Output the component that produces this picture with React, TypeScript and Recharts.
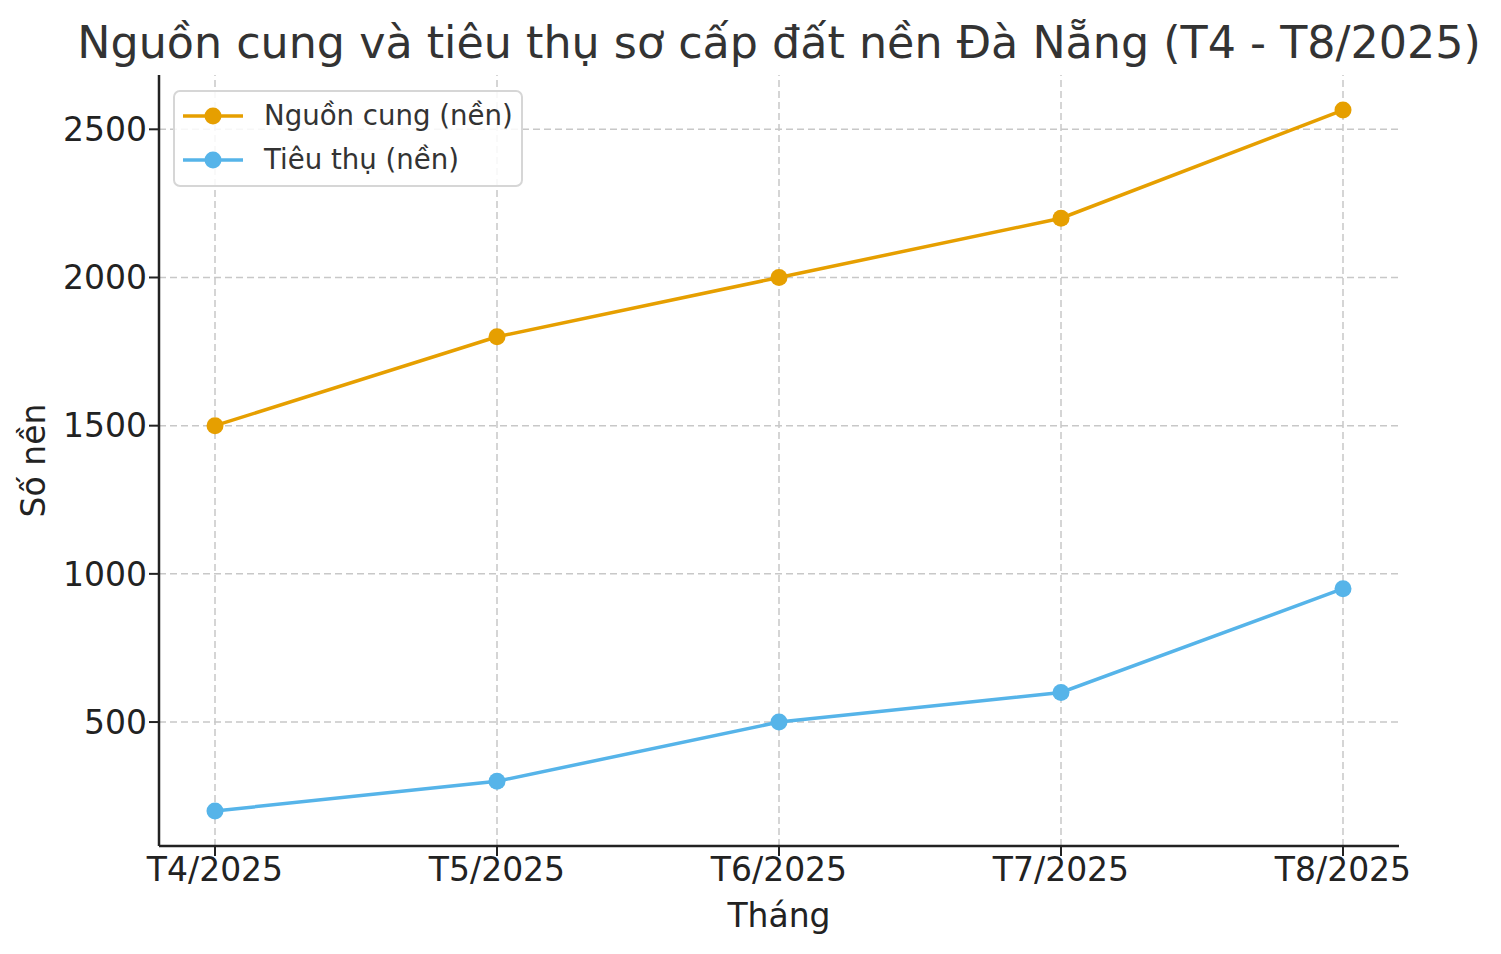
import React from "react";
import {
  LineChart,
  Line,
  XAxis,
  YAxis,
  ReferenceLine,
  Legend,
  Customized,
} from "recharts";

const months = ["T4/2025", "T5/2025", "T6/2025", "T7/2025", "T8/2025"];
const supply = [1500, 1800, 2000, 2200, 2565];
const sales = [200, 300, 500, 600, 950];
const yTicks = [500, 1000, 1500, 2000, 2500];

const TITLE = "Nguồn cung và tiêu thụ sơ cấp đất nền Đà Nẵng (T4 - T8/2025)";
const SUPPLY_NAME = "Nguồn cung (nền)";
const SALES_NAME = "Tiêu thụ (nền)";
const X_LABEL = "Tháng";
const Y_LABEL = "Số nền";

const ORANGE = "#E69F00";
const BLUE = "#56B4E9";
const GRID = "#c8c8c8";
const FONT = "'DejaVu Sans', Verdana, sans-serif";

const W = 1501;
const H = 954;
const M_TOP = 75;
const M_RIGHT = 102;
const Y_W = 159;
const X_H = 108;

const data = months.map((m, i) => ({ month: m, supply: supply[i], sales: sales[i] }));

const allVals = [...supply, ...sales];
const vMin = Math.min(...allVals);
const vMax = Math.max(...allVals);
const pad = (vMax - vMin) * 0.05;
const yDomain = [vMin - pad, vMax + pad];

const legendItems = [
  { name: SUPPLY_NAME, color: ORANGE },
  { name: SALES_NAME, color: BLUE },
];

const LegendBox = () => (
  <div
    style={{
      width: 346,
      height: 93,
      border: "2px solid #d6d6d6",
      borderRadius: 7,
      background: "rgba(255,255,255,0.85)",
      boxSizing: "content-box",
      position: "relative",
      fontFamily: FONT,
    }}
  >
    {legendItems.map((it, i) => (
      <div
        key={it.name}
        style={{
          position: "absolute",
          left: 0,
          top: 24 + i * 44 - 22,
          height: 44,
          width: 346,
          display: "flex",
          alignItems: "center",
        }}
      >
        <svg width={89} height={44} style={{ flex: "none" }}>
          <line x1={8} x2={68} y1={22} y2={22} stroke={it.color} strokeWidth={3.5} />
          <circle cx={38} cy={22} r={8.5} fill={it.color} />
        </svg>
        <span style={{ fontSize: 27.6, color: "#333", whiteSpace: "nowrap", lineHeight: "44px" }}>
          {it.name}
        </span>
      </div>
    ))}
  </div>
);

const TitleLayer = () => {
  const plotLeft = Y_W;
  const plotWidth = W - M_RIGHT - Y_W;
  const plotTop = M_TOP;
  const plotHeight = H - X_H - M_TOP;
  const cx = plotLeft + plotWidth / 2;
  const cy = plotTop + plotHeight / 2;
  return (
    <g>
      <text x={cx} y={58} textAnchor="middle" fontSize={44.4} fill="#333" fontFamily={FONT}>
        {TITLE}
      </text>
      <text x={cx} y={927} textAnchor="middle" fontSize={33} fill="#222" fontFamily={FONT}>
        {X_LABEL}
      </text>
      <text
        x={45}
        y={cy}
        transform={`rotate(-90 45 ${cy})`}
        textAnchor="middle"
        fontSize={33}
        fill="#222"
        fontFamily={FONT}
      >
        {Y_LABEL}
      </text>
    </g>
  );
};

export default function App() {
  return (
    <div style={{ position: "absolute", left: 0, top: 0, width: W, height: H, background: "#fff" }}>
      <LineChart
        width={W}
        height={H}
        data={data}
        margin={{ top: M_TOP, right: M_RIGHT, left: 0, bottom: 0 }}
        style={{ fontFamily: FONT }}
      >
        <XAxis
          dataKey="month"
          padding={{ left: 56, right: 56 }}
          height={X_H}
          interval={0}
          tickSize={10}
          tickMargin={2}
          tick={{ fill: "#222", fontSize: 33, fontFamily: FONT }}
          axisLine={{ stroke: "#222", strokeWidth: 2.5 }}
          tickLine={{ stroke: "#222", strokeWidth: 2 }}
        />
        <YAxis
          type="number"
          domain={yDomain}
          allowDataOverflow
          ticks={yTicks}
          width={Y_W}
          tickSize={10}
          tickMargin={2}
          tick={{ fill: "#222", fontSize: 33, fontFamily: FONT }}
          axisLine={{ stroke: "#222", strokeWidth: 2.5 }}
          tickLine={{ stroke: "#222", strokeWidth: 2 }}
        />
        {months.map((m) => (
          <ReferenceLine key={"vx" + m} x={m} stroke={GRID} strokeWidth={1.5} strokeDasharray="7 4" />
        ))}
        {yTicks.map((t) => (
          <ReferenceLine key={"hy" + t} y={t} stroke={GRID} strokeWidth={1.5} strokeDasharray="7 4" />
        ))}
        <Legend
          layout="vertical"
          align="center"
          verticalAlign="middle"
          wrapperStyle={{ left: 173, top: 90, width: 350, height: 97 }}
          content={() => <LegendBox />}
        />
        <Line
          type="linear"
          dataKey="supply"
          name={SUPPLY_NAME}
          stroke={ORANGE}
          strokeWidth={3.5}
          dot={{ r: 8.5, fill: ORANGE, stroke: ORANGE, strokeWidth: 0 }}
          activeDot={false}
          isAnimationActive={false}
        />
        <Line
          type="linear"
          dataKey="sales"
          name={SALES_NAME}
          stroke={BLUE}
          strokeWidth={3.5}
          dot={{ r: 8.5, fill: BLUE, stroke: BLUE, strokeWidth: 0 }}
          activeDot={false}
          isAnimationActive={false}
        />
        <Customized component={TitleLayer} />
      </LineChart>
    </div>
  );
}
